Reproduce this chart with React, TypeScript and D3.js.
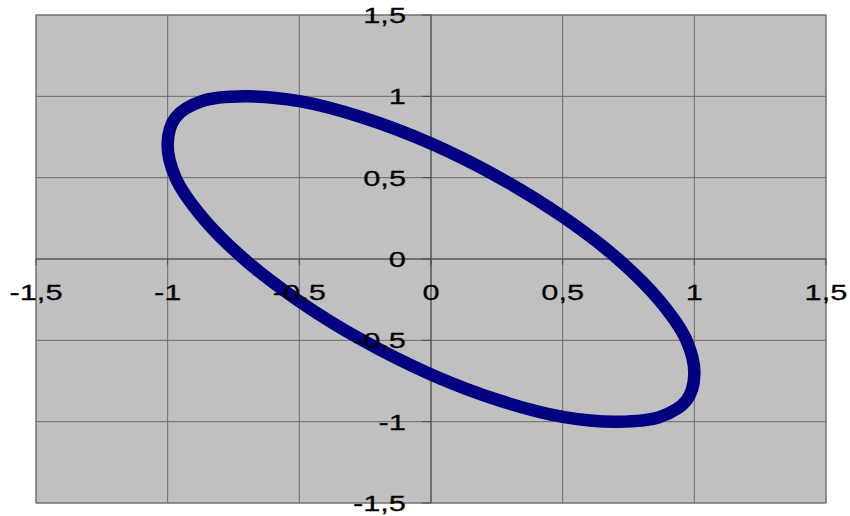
import React from "react";
import * as d3 from "d3";

// Points on the closed loop (x, y)
const xs = [1, 0.97, 0.87, 0.71, 0.5, 0.26, 0, -0.26, -0.5, -0.71, -0.87, -0.97, -1, -0.97, -0.87, -0.71, -0.5, -0.26, 0, 0.26, 0.5, 0.71, 0.87, 0.97];
const ys = [-0.71, -0.87, -0.97, -1, -0.97, -0.87, -0.71, -0.5, -0.26, 0, 0.26, 0.5, 0.71, 0.87, 0.97, 1, 0.97, 0.87, 0.71, 0.5, 0.26, 0, -0.26, -0.5];

const ticks = [-1.5, -1, -0.5, 0, 0.5, 1, 1.5];
const fmt = (v: number) => (v === 0 ? "0" : String(v).replace(".", ","));

const W = 850;
const H = 516;
const plot = { left: 36, right: 826, top: 15, bottom: 503 };

export default function App() {
  const x = d3.scaleLinear().domain([-1.5, 1.5]).range([plot.left, plot.right]);
  const y = d3.scaleLinear().domain([-1.5, 1.5]).range([plot.bottom, plot.top]);
  const pts: [number, number][] = xs.map((v, i) => [v, ys[i]]);
  const line = d3
    .line<[number, number]>()
    .x((d) => x(d[0]))
    .y((d) => y(d[1]))
    .curve(d3.curveCatmullRomClosed);

  const x0 = x(0);
  const y0 = y(0);
  const font = "'Liberation Sans', Arial, sans-serif";

  return (
    <svg width={W} height={H} style={{ position: "absolute", left: 0, top: 0, background: "#fff" }}>
      <rect x={plot.left} y={plot.top} width={plot.right - plot.left} height={plot.bottom - plot.top} fill="#c0c0c0" stroke="#808080" strokeWidth={1} />
      {ticks.map((t) => (
        <g key={"g" + t}>
          <line x1={x(t)} x2={x(t)} y1={plot.top} y2={plot.bottom} stroke="#6a6a6a" strokeWidth={1} />
          <line x1={plot.left} x2={plot.right} y1={y(t)} y2={y(t)} stroke="#6a6a6a" strokeWidth={1} />
        </g>
      ))}
      {/* axes through the origin */}
      <line x1={plot.left} x2={plot.right} y1={y0} y2={y0} stroke="#4a4a4a" strokeWidth={1} />
      <line x1={x0} x2={x0} y1={plot.top} y2={plot.bottom} stroke="#4a4a4a" strokeWidth={1} />
      {ticks.map((t) => (
        <g key={"t" + t}>
          <line x1={x(t)} x2={x(t)} y1={y0} y2={y0 + 6} stroke="#4a4a4a" strokeWidth={1} />
          <line x1={x0 - 9} x2={x0} y1={y(t)} y2={y(t)} stroke="#4a4a4a" strokeWidth={1} />
        </g>
      ))}
      <path d={line(pts) ?? ""} fill="none" stroke="#000080" strokeWidth={12.5} strokeLinejoin="round" />
      {ticks.map((t) => (
        <text
          key={"xl" + t}
          transform={`translate(${x(t)},${y0 + 40.5}) scale(1.4,1)`}
          textAnchor="middle"
          fontFamily={font}
          fontSize={22}
          fill="#000"
          stroke="#000"
          strokeWidth={0.25}
        >
          {fmt(t)}
        </text>
      ))}
      {ticks.map((t) => (
        <text
          key={"yl" + t}
          transform={`translate(${x0 - 25},${y(t) + 8}) scale(1.4,1)`}
          textAnchor="end"
          fontFamily={font}
          fontSize={22}
          fill="#000"
          stroke="#000"
          strokeWidth={0.25}
        >
          {fmt(t)}
        </text>
      ))}
    </svg>
  );
}
